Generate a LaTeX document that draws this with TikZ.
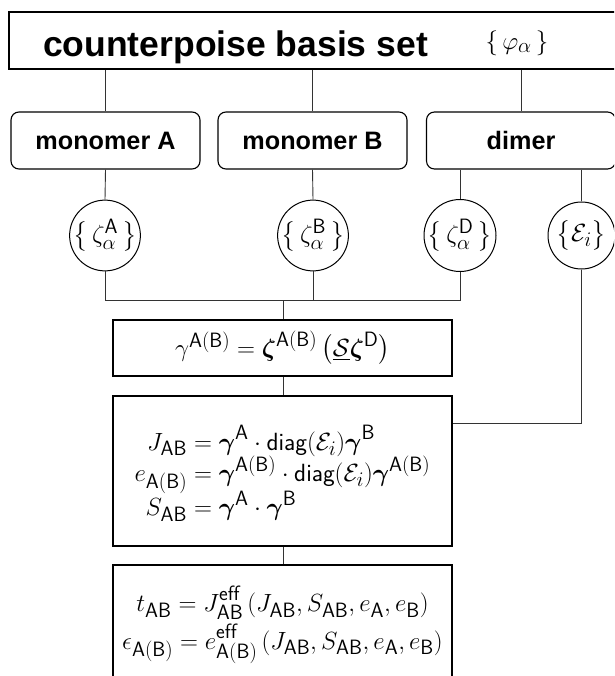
\RequirePackage{fix-cm}
\documentclass[tikz,border=0pt]{standalone}
\usepackage{amsmath}
\usepackage{fontspec}
\newfontfamily\headfont{Liberation Sans}
\usetikzlibrary{calc}
\newcommand{\sfs}[1]{\mathsf{#1}}
\begin{document}
\begin{tikzpicture}[x=1pt,y=-1pt,
  conn/.style={draw=black!80,line width=0.9pt},
  topbox/.style={draw,line width=1.6pt,minimum width=607pt,minimum height=57pt,inner sep=0pt},
  molbox/.style={draw,line width=1.1pt,rounded corners=8pt,minimum width=189pt,minimum height=57pt,inner sep=0pt,
     font=\headfont\bfseries\fontsize{25.2}{28}\selectfont},
  coefc/.style={draw,line width=1pt,circle,minimum size=67pt,inner sep=0pt,font=\Huge},
  eqbox/.style={draw,line width=1.1pt,minimum width=339pt,inner sep=0pt,font=\Huge}]
\useasboundingbox (0,0) rectangle (614,676);
\clip (0,0) rectangle (614,676);

% top box
\node[topbox] (top) at (312.5,40.5) {};
\node[font=\headfont\bfseries\fontsize{35.5}{40}\selectfont,anchor=base] (title) at (235.5,56.5) {counterpoise basis set};
\node[font=\Huge] (phi) at (517,43) {$\{\,\varphi_\alpha\,\}$};

% molecule boxes
\node[molbox] (ma) at (105.5,140.5) {monomer A};
\node[molbox] (mb) at (312.5,140.5) {monomer B};
\node[molbox] (di) at (521,140.5) {dimer};

% coefficient circles
\node[coefc] (za) at (105,235.5) {$\bigl\{\,\zeta^{\sfs{A}}_{\alpha}\,\bigr\}$};
\node[coefc] (zb) at (313,235.5) {$\bigl\{\,\zeta^{\sfs{B}}_{\alpha}\,\bigr\}$};
\node[coefc] (zd) at (460,235.5) {$\bigl\{\,\zeta^{\sfs{D}}_{\alpha}\,\bigr\}$};
\node[coefc] (ze) at (581.5,235.5) {$\bigl\{\mathcal{E}_i\bigr\}$};

% equation boxes
\node[eqbox,minimum height=56pt] (gam) at (282.5,348) {$\gamma^{\sfs{A(B)}} = \boldsymbol{\zeta}^{\sfs{A(B)}}\,\bigl(\underline{\mathcal{S}}\boldsymbol{\zeta}^{\sfs{D}}\bigr)$};
\node[eqbox,minimum height=150pt] (mat) at (282.5,471) {\jot=0pt\raisebox{0pt}[\dimexpr\height+8pt\relax][\depth]{$\begin{aligned}
  J_{\sfs{AB}} &= \boldsymbol{\gamma}^{\sfs{A}}\cdot\sfs{diag}(\mathcal{E}_i)\boldsymbol{\gamma}^{\sfs{B}}\\[-4pt]
  e_{\sfs{A(B)}} &= \boldsymbol{\gamma}^{\sfs{A(B)}}\cdot\sfs{diag}(\mathcal{E}_i)\boldsymbol{\gamma}^{\sfs{A(B)}}\\[-4pt]
  S_{\sfs{AB}} &= \boldsymbol{\gamma}^{\sfs{A}}\cdot\boldsymbol{\gamma}^{\sfs{B}}
  \end{aligned}$}};
\node[eqbox,minimum height=120pt] (eff) at (282.5,625) {\jot=3pt$\begin{gathered}
  t_{\sfs{AB}} = J^{\sfs{eff}}_{\sfs{AB}}\,(J_{\sfs{AB}}, S_{\sfs{AB}}, e_{\sfs{A}}, e_{\sfs{B}})\\
  \epsilon_{\sfs{A(B)}} = e^{\sfs{eff}}_{\sfs{A(B)}}\,(J_{\sfs{AB}}, S_{\sfs{AB}}, e_{\sfs{A}}, e_{\sfs{B}})
  \end{gathered}$};

% connectors
\foreach \m in {ma,mb,di} \draw[conn] (\m.north |- top.south) -- (\m.north);
\draw[conn] (ma.south) -- (za.north);
\draw[conn] (mb.south) -- (zb.north);
\draw[conn] (zd.north |- di.south) -- (zd.north);
\draw[conn] (ze.north |- di.south) -- (ze.north);
\coordinate (j) at (283,300.5);
\draw[conn] (za.south) |- (j) -| (zd.south);
\draw[conn] (zb.south) -- (zb.south |- j);
\draw[conn] (j) -- (j |- gam.north);
\draw[conn] (j |- gam.south) -- (j |- mat.north);
\draw[conn] (j |- mat.south) -- (j |- eff.north);
\draw[conn] (ze.south) |- ([yshift=48pt]mat.east);
\end{tikzpicture}
\end{document}
